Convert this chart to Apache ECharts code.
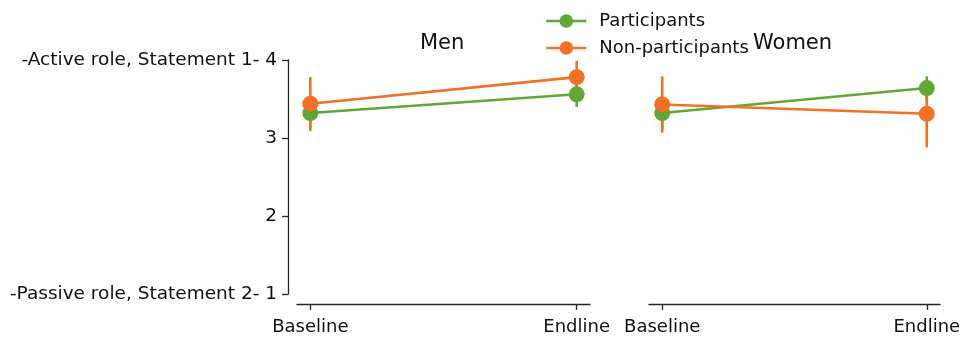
<!DOCTYPE html>
<html>
<head>
<meta charset="utf-8">
<script src="https://cdn.jsdelivr.net/npm/echarts@6/dist/echarts.min.js"></script>
<style>
  html, body { margin: 0; padding: 0; background: #fff; }
  #chart { width: 961px; height: 338px; }
</style>
</head>
<body>
<div id="chart"></div>
<script>
// Survey rounds on the x axis
const categories = ['Baseline', 'Endline'];
const yTickLabels = { 1: '-Passive role, Statement 2- 1', 2: '2', 3: '3', 4: '-Active role, Statement 1- 4' };
const seriesNames = ['Participants', 'Non-participants'];

// Men: means with confidence-interval bounds
const menParticipants = [3.32, 3.56];
const menParticipantsLow = [3.12, 3.40];
const menParticipantsHigh = [3.52, 3.72];
const menNonParticipants = [3.44, 3.78];
const menNonParticipantsLow = [3.09, 3.57];
const menNonParticipantsHigh = [3.78, 3.99];

// Women: means with confidence-interval bounds
const womenParticipants = [3.32, 3.64];
const womenParticipantsLow = [3.12, 3.49];
const womenParticipantsHigh = [3.52, 3.79];
const womenNonParticipants = [3.43, 3.31];
const womenNonParticipantsLow = [3.07, 2.88];
const womenNonParticipantsHigh = [3.79, 3.72];

const GREEN = '#60a737';
const ORANGE = '#f27127';
const FONT = 'DejaVu Sans';
const INK = '#262626';

function points(vals) { return vals.map((v, i) => [i, v]); }
function bars(lo, hi) { return lo.map((l, i) => [i, l, hi[i]]); }

function errorSeries(idx, lo, hi, color) {
  return {
    type: 'custom', xAxisIndex: idx, yAxisIndex: idx, silent: true, z: 2,
    data: bars(lo, hi),
    renderItem: function (params, api) {
      const a = api.coord([api.value(0), api.value(1)]);
      const b = api.coord([api.value(0), api.value(2)]);
      return { type: 'line', shape: { x1: a[0], y1: a[1], x2: b[0], y2: b[1] },
               style: { stroke: color, lineWidth: 2.6 } };
    }
  };
}
function lineSeries(idx, name, vals, color, z) {
  return {
    type: 'line', name: name, xAxisIndex: idx, yAxisIndex: idx, z: z,
    data: points(vals), symbol: 'circle', symbolSize: 16,
    lineStyle: { color: color, width: 2.6 }, itemStyle: { color: color },
    emphasis: { disabled: true }, animation: false
  };
}

const xAxisBase = {
  type: 'value', min: -0.05, max: 1.05, offset: 10,
  axisLine: { show: true, onZero: false, lineStyle: { color: INK, width: 1.3 } },
  axisTick: { show: true, customValues: [0, 1], length: 6, lineStyle: { color: INK, width: 1.3 } },
  axisLabel: { customValues: [0, 1], formatter: v => categories[Math.round(v)], color: '#111', fontFamily: FONT, fontSize: 18, margin: 14 },
  splitLine: { show: false }
};

const chart = echarts.init(document.getElementById('chart'), null, { renderer: 'canvas' });
chart.setOption({
  animation: false,
  backgroundColor: '#fff',
  title: [
    { text: 'Men', left: 420, top: 33, padding: 0, textStyle: { fontFamily: FONT, fontSize: 21, fontWeight: 'normal', color: '#111' } },
    { text: 'Women', left: 753, top: 33, padding: 0, textStyle: { fontFamily: FONT, fontSize: 21, fontWeight: 'normal', color: '#111' } }
  ],
  legend: {
    data: seriesNames, orient: 'vertical', left: 545, top: 12, padding: 0, itemGap: 9,
    itemWidth: 40, itemHeight: 17,
    lineStyle: { width: 2.6 },
    textStyle: { fontFamily: FONT, fontSize: 18, color: '#111', padding: [0, 0, 0, 8] }
  },
  grid: [
    { left: 297, top: 60, width: 293, height: 234, outerBoundsMode: 'none' },
    { left: 649, top: 60, width: 291, height: 234, outerBoundsMode: 'none' }
  ],
  xAxis: [Object.assign({ gridIndex: 0 }, xAxisBase), Object.assign({ gridIndex: 1 }, xAxisBase)],
  yAxis: [
    { gridIndex: 0, type: 'value', min: 1, max: 4, interval: 1, offset: 9,
      axisLine: { show: true, onZero: false, lineStyle: { color: INK, width: 1.3 } },
      axisTick: { show: true, length: 6, lineStyle: { color: INK, width: 1.3 } },
      axisLabel: { formatter: v => yTickLabels[v], color: '#111', fontFamily: FONT, fontSize: 18.5, margin: 11 },
      splitLine: { show: false } },
    { gridIndex: 1, type: 'value', min: 1, max: 4, interval: 1,
      axisLine: { show: false }, axisTick: { show: false }, axisLabel: { show: false }, splitLine: { show: false } }
  ],
  series: [
    errorSeries(0, menParticipantsLow, menParticipantsHigh, GREEN),
    errorSeries(0, menNonParticipantsLow, menNonParticipantsHigh, ORANGE),
    lineSeries(0, 'Participants', menParticipants, GREEN, 3),
    lineSeries(0, 'Non-participants', menNonParticipants, ORANGE, 4),
    errorSeries(1, womenParticipantsLow, womenParticipantsHigh, GREEN),
    errorSeries(1, womenNonParticipantsLow, womenNonParticipantsHigh, ORANGE),
    lineSeries(1, 'Participants', womenParticipants, GREEN, 3),
    lineSeries(1, 'Non-participants', womenNonParticipants, ORANGE, 4)
  ]
});
</script>
</body>
</html>
